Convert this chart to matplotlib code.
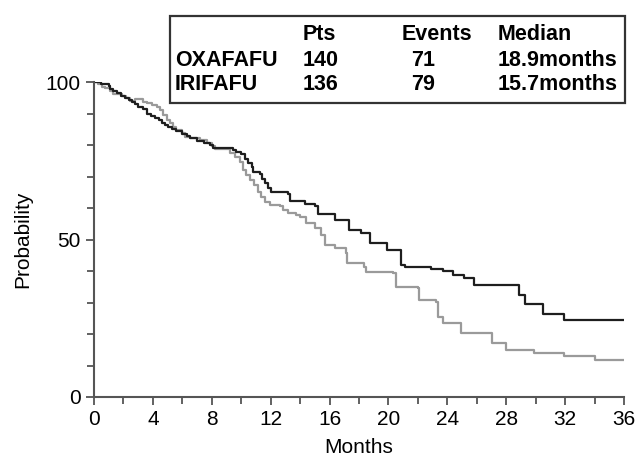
import numpy as np
import matplotlib
matplotlib.use("Agg")
import matplotlib.pyplot as plt
from matplotlib.patches import Rectangle

plt.rcParams['font.family'] = ['Liberation Sans', 'DejaVu Sans']

# ---- Kaplan-Meier step data (months, survival % after the step) ----
oxa_t = [0, 0.5, 1.0, 1.1, 1.3, 1.55, 1.8, 2.1, 2.35, 2.6, 2.8, 3.0, 3.35, 3.6,
         3.9, 4.15, 4.4, 4.6, 4.8, 5.05, 5.3, 5.6, 5.95, 6.3, 6.5, 7.0, 7.5,
         7.85, 8.1, 9.45, 9.67, 10.0, 10.25, 10.45, 10.7, 10.8, 11.25, 11.4,
         11.6, 11.8, 12.05, 13.2, 13.3, 14.3, 15.0, 15.2, 16.4, 17.3, 18.15,
         18.78, 19.9, 20.86, 21.15, 22.9, 23.7, 24.36, 25.15, 25.83, 28.9,
         29.3, 30.5, 31.9, 36]
oxa_p = [100, 99.3, 98.6, 97.9, 97.1, 96.4, 95.7, 95.0, 94.3, 93.6, 92.9, 92.1,
         91.4, 90.0, 89.3, 88.6, 87.9, 87.1, 86.4, 85.7, 85.0, 84.3, 83.6, 82.9,
         82.1, 81.4, 80.7, 80.0, 79.0, 78.4, 77.7, 77.0, 75.7, 74.3, 72.9, 71.4,
         70.7, 69.3, 67.9, 66.4, 65.0, 64.3, 62.1, 61.4, 60.7, 58.2, 56.2, 53.0,
         52.0, 48.8, 46.7, 41.9, 41.4, 40.6, 40.1, 38.7, 37.7, 35.6, 32.4, 29.5,
         26.3, 24.4, 24.4]

iri_t = [0, 0.3, 0.52, 0.75, 1.08, 1.31, 1.88, 2.2, 2.44, 2.78, 3.34, 3.57,
         3.91, 4.25, 4.47, 4.7, 4.93, 5.15, 5.37, 5.6, 5.95, 6.17, 6.5, 7.2,
         7.65, 8.0, 8.2, 9.25, 9.56, 9.9, 10.12, 10.35, 10.57, 10.9, 11.14,
         11.37, 11.6, 11.93, 12.6, 12.83, 13.17, 13.73, 13.96, 14.4, 15.0, 15.4,
         15.66, 16.4, 17.1, 17.2, 18.37, 18.5, 20.3, 20.5, 22.0, 22.1, 23.2,
         23.35, 23.7, 24.9, 27.0, 28.0, 29.9, 31.9, 34.0, 36]
iri_p = [100, 99.3, 98.5, 98.0, 97.1, 96.3, 95.6, 94.9, 94.1, 94.6, 93.7, 93.2,
         92.7, 92.2, 91.1, 89.5, 87.9, 86.9, 85.8, 84.8, 83.7, 82.6, 82.1, 81.6,
         80.5, 79.7, 78.7, 77.4, 76.3, 74.7, 72.1, 70.5, 68.9, 67.3, 65.2, 63.6,
         62.0, 61.0, 60.7, 59.4, 58.4, 57.9, 57.3, 55.1, 53.5, 51.4, 48.3, 47.2,
         45.6, 42.4, 41.4, 39.8, 39.3, 35.0, 34.5, 30.8, 30.3, 25.5, 23.4, 20.2,
         17.0, 14.9, 13.9, 13.1, 11.7, 11.7]

groups = ["OXAFAFU", "IRIFAFU"]
pts = ["140", "136"]
events = ["71", "79"]
medians = ["18.9months", "15.7months"]

W, H = 637, 459
fig = plt.figure(figsize=(W / 100, H / 100), dpi=100)
ax = fig.add_axes([94 / W, 1 - 397 / H, (624 - 94) / W, (397 - 82) / H])

ax.step(iri_t, iri_p, where='post', color='#9a9a9a', lw=1.6)
ax.step(oxa_t, oxa_p, where='post', color='#1e1e1e', lw=1.6)

ax.set_xlim(0, 36)
ax.set_ylim(0, 100)
ax.set_xticks(np.arange(0, 37, 4))
ax.set_xticks(np.arange(0, 37, 2), minor=True)
ax.set_yticks([0, 50, 100])
ax.set_yticks(np.arange(0, 101, 10), minor=True)
for s in ['top', 'right']:
    ax.spines[s].set_visible(False)
for s in ['left', 'bottom']:
    ax.spines[s].set_color('#555555')
    ax.spines[s].set_linewidth(1.5)
ax.tick_params(which='both', direction='out', color='#555555', width=1.3)
ax.tick_params(which='major', length=6, labelsize=15)
ax.tick_params(which='minor', length=5)
ax.set_xlabel("Months", fontsize=15, labelpad=6)
ax.set_ylabel("Probability", fontsize=15, labelpad=10)

# ---- table box ----
fig.patches.append(Rectangle((170 / W, 1 - 103 / H), (625 - 170) / W, (103 - 16) / H,
                             transform=fig.transFigure, fill=False,
                             edgecolor='#333333', lw=1.6))
tk = dict(fontsize=15.5, fontweight='bold', va='center', transform=fig.transFigure)
fig.text(303 / W, 1 - 34 / H, "Pts", **tk)
fig.text(402 / W, 1 - 34 / H, "Events", **tk)
fig.text(498 / W, 1 - 34 / H, "Median", **tk)
for i, y in enumerate([61, 84]):
    fig.text(175 / W, 1 - y / H, groups[i], **tk)
    fig.text(303 / W, 1 - y / H, pts[i], **tk)
    fig.text(423 / W, 1 - y / H, events[i], ha='center', **tk)
    fig.text(498 / W, 1 - y / H, medians[i], **tk)

fig.savefig("out.png", dpi=100)
